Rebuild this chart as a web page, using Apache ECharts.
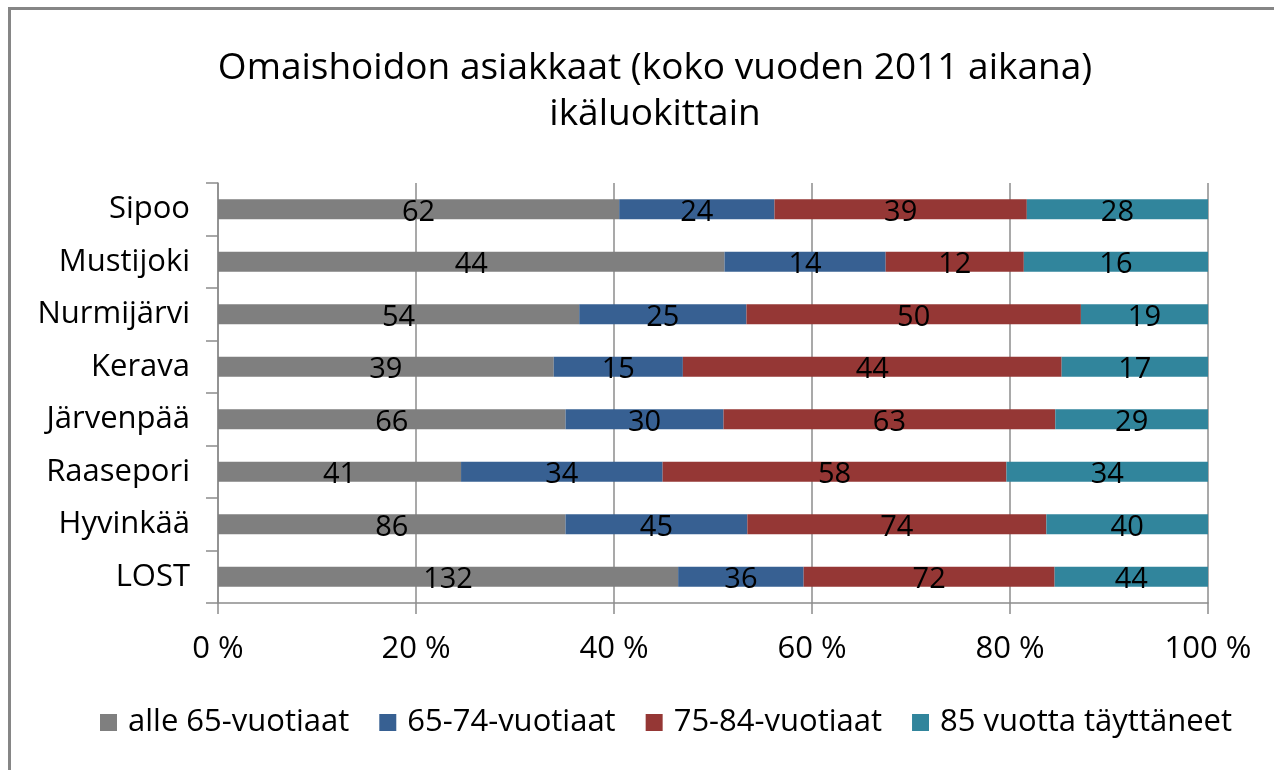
<!DOCTYPE html>
<html>
<head>
<meta charset="utf-8">
<script src="https://cdn.jsdelivr.net/npm/echarts@6/dist/echarts.min.js"></script>
<style>
  html, body { margin: 0; padding: 0; background: #fff; }
  #chart { width: 1274px; height: 770px; }
</style>
</head>
<body>
<div id="chart"></div>
<script>
// Municipalities, top to bottom
const categories = ['Sipoo', 'Mustijoki', 'Nurmijärvi', 'Kerava', 'Järvenpää', 'Raasepori', 'Hyvinkää', 'LOST'];

// Clients per age group (count of persons)
const alle65 = [62, 44, 54, 39, 66, 41, 86, 132];
const v65_74 = [24, 14, 25, 15, 30, 34, 45, 36];
const v75_84 = [39, 12, 50, 44, 63, 58, 74, 72];
const v85plus = [28, 16, 19, 17, 29, 34, 40, 44];

const seriesNames = ['alle 65-vuotiaat', '65-74-vuotiaat', '75-84-vuotiaat', '85 vuotta täyttäneet'];
const seriesColors = ['#7f7f7f', '#376092', '#953735', '#31859c'];
const xTicks = [0, 20, 40, 60, 80, 100];

const groups = [alle65, v65_74, v75_84, v85plus];
const totals = categories.map((_, i) => groups.reduce((s, g) => s + g[i], 0));

const FONT = '"Open Sans", "Noto Sans", sans-serif';

const chart = echarts.init(document.getElementById('chart'), null, { renderer: 'canvas' });

const series = groups.map((g, k) => ({
  name: seriesNames[k],
  type: 'bar',
  stack: 'share',
  barWidth: 20,
  itemStyle: { color: seriesColors[k] },
  data: g.map((v, i) => ({ value: v / totals[i] * 100, count: v })),
  label: {
    show: true,
    position: 'inside',
    color: '#000',
    fontFamily: FONT,
    fontSize: 29,
    offset: [0, 3],
    formatter: p => String(p.data.count)
  },
  emphasis: { disabled: true }
}));

chart.setOption({
  animation: false,
  backgroundColor: '#fff',
  textStyle: { fontFamily: FONT },
  title: {
    text: 'Omaishoidon asiakkaat (koko vuoden 2011 aikana)\nikäluokittain',
    left: 650,
    top: 40,
    textAlign: 'center',
    textStyle: {
      fontFamily: FONT,
      fontSize: 37,
      fontWeight: 'normal',
      color: '#000',
      lineHeight: 46
    }
  },
  graphic: [{
    type: 'rect',
    shape: { x: 9.5, y: 8.5, width: 1300, height: 800 },
    style: { fill: 'none', stroke: '#868686', lineWidth: 3 },
    silent: true
  }],
  legend: {
    bottom: 27,
    left: 95,
    itemWidth: 17,
    itemHeight: 17,
    itemGap: 30,
    icon: 'rect',
    data: seriesNames,
    textStyle: { fontFamily: FONT, fontSize: 31, color: '#000', padding: [0, 0, 0, 6] }
  },
  grid: { left: 218, right: 66, top: 183, bottom: 167, containLabel: false },
  xAxis: {
    type: 'value',
    min: 0,
    max: 100,
    interval: 20,
    axisLine: { show: true, lineStyle: { color: '#8c8c8c', width: 1.5 } },
    axisTick: { show: true, length: 11, lineStyle: { color: '#8c8c8c', width: 1.5 } },
    splitLine: { show: true, lineStyle: { color: '#8c8c8c', width: 1.5 } },
    axisLabel: {
      formatter: v => v + ' %',
      fontFamily: FONT,
      fontSize: 31,
      color: '#000',
      margin: 31
    }
  },
  yAxis: {
    type: 'category',
    inverse: true,
    data: categories,
    axisLine: { show: true, lineStyle: { color: '#8c8c8c', width: 1.5 } },
    axisTick: { show: true, length: 12, lineStyle: { color: '#8c8c8c', width: 1.5 } },
    axisLabel: {
      fontFamily: FONT,
      fontSize: 31,
      color: '#000',
      margin: 28
    }
  },
  series: series
});
</script>
</body>
</html>
